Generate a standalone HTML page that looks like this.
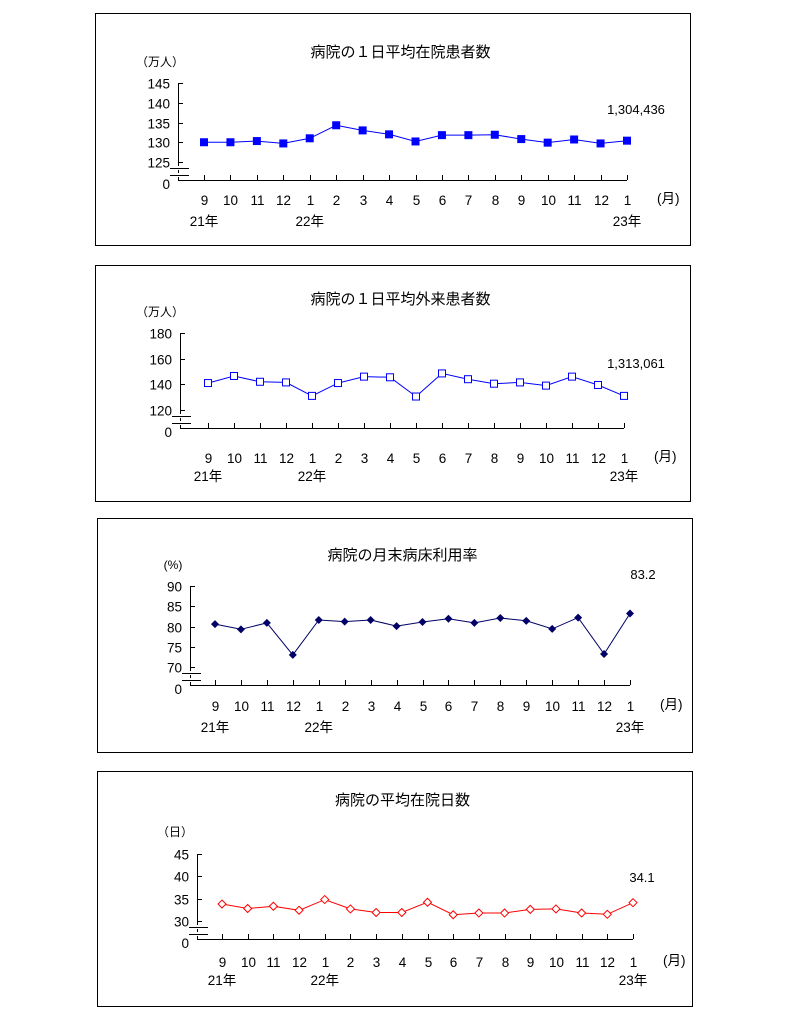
<!DOCTYPE html>
<html><head><meta charset="utf-8"><style>
body{margin:0;background:#fff;width:790px;height:1026px;overflow:hidden;}
svg{position:absolute;left:0;top:0;font-family:"Liberation Sans","Noto Sans CJK JP",sans-serif;}
</style></head><body>
<svg id="s" width="790" height="1026" viewBox="0 0 790 1026"></svg>
<script>
const months=["9","10","11","12","1","2","3","4","5","6","7","8","9","10","11","12","1"];
const inpatients=[130,130,130.3,129.7,131,134.3,133,132,130.2,131.8,131.8,131.9,130.8,129.9,130.7,129.7,130.4];
const outpatients=[141,146.5,142,141.5,131,141,146,145.5,130.5,148.5,144,140.5,141.5,139,146,139.5,131];
const bedRate=[80.6,79.3,80.9,73.0,81.6,81.2,81.6,80.1,81.1,81.9,80.9,82.1,81.4,79.4,82.2,73.2,83.2];
const stayDays=[33.8,32.8,33.3,32.4,34.8,32.7,31.9,31.9,34.2,31.4,31.8,31.8,32.6,32.7,31.8,31.5,34.1];
const ticks1=[125,130,135,140,145];
const ticks2=[120,140,160,180];
const ticks3=[70,75,80,85,90];
const ticks4=[30,35,40,45];
const lastLabels=["1,304,436","1,313,061","83.2","34.1"];
const S=document.getElementById('s');
const NS="http://www.w3.org/2000/svg";
function mk(t,a,txt){const e=document.createElementNS(NS,t);for(const k in a)e.setAttribute(k,a[k]);if(txt!==undefined)e.textContent=txt;S.appendChild(e);return e;}
const charts=[
 {box:[95,13,595,232],title:"病院の１日平均在院患者数",ty:57,unit:"（万人）",ux:160,uy:66,ax:178,bottom:180,top:83,vmin:125,vmax:145,ticks:ticks1,data:inpatients,x0:204,x1:627,my:205,yy:226,mk:"fsq",col:"#0000ff",lab:lastLabels[0],lx:636,ly:114},
 {box:[95,265,595,236],title:"病院の１日平均外来患者数",ty:304,unit:"（万人）",ux:160,uy:316,ax:180,bottom:428,top:333,vmin:120,vmax:180,ticks:ticks2,data:outpatients,x0:208,x1:624,my:463,yy:481,mk:"hsq",col:"#0000ff",lab:lastLabels[1],lx:636,ly:368},
 {box:[97,518,595,234],title:"病院の月末病床利用率",ty:560,unit:"(%)",ux:173,uy:569,ax:190,bottom:685,top:586,vmin:70,vmax:90,ticks:ticks3,data:bedRate,x0:215,x1:630,my:711,yy:732,mk:"dia",col:"#000066",lab:lastLabels[2],lx:643,ly:579},
 {box:[97,771,595,235],title:"病院の平均在院日数",ty:805,unit:"（日）",ux:175,uy:836,ax:197,bottom:939,top:854,vmin:30,vmax:45,ticks:ticks4,data:stayDays,x0:222,x1:633,my:967,yy:985,mk:"hdia",col:"#ff0000",lab:lastLabels[3],lx:642,ly:882}
];
charts.forEach((c,ci)=>{
 const [bx,by,bw,bh]=c.box;
 let e=mk('rect',{x:bx+0.5,y:by+0.5,width:bw,height:bh,fill:'none',stroke:'#000'});
 
 e=mk('text',{x:bx+bw/2+8,y:c.ty,'font-size':15,'text-anchor':'middle'},c.title);
 
 e=mk('text',{x:c.ux,y:c.uy,'font-size':12,'text-anchor':'middle'},c.unit);
 
 const minY=c.bottom-18;
 const y=v=>c.top+(c.vmax-v)/(c.vmax-c.vmin)*(minY-c.top);
 const n=c.data.length;
 const x=i=>c.x0+i*(c.x1-c.x0)/(n-1);
 e=mk('line',{x1:c.ax+0.5,y1:c.top,x2:c.ax+0.5,y2:c.bottom,stroke:'#000'});
 
 e=mk('line',{x1:c.ax,y1:c.bottom+0.5,x2:c.x1,y2:c.bottom+0.5,stroke:'#000'});
 
 c.ticks.forEach(t=>{
  const ty=Math.round(y(t))+0.5;
  let l=mk('line',{x1:c.ax,y1:ty,x2:c.ax+5,y2:ty,stroke:'#000'});
  
  l=mk('text',{x:c.ax-8,y:ty+5,'font-size':13.5,'text-anchor':'end'},String(t));
  
 });
 e=mk('text',{x:c.ax-8,y:c.bottom+9,'font-size':13.5,'text-anchor':'end'},"0");
 
 [c.bottom-12,c.bottom-5].forEach(by2=>{
  const r=mk('rect',{x:c.ax-8,y:by2-2,width:20,height:4,fill:'#fff'});
  
 });
 [c.bottom-12,c.bottom-5].forEach(by2=>{
  const r=mk('line',{x1:c.ax-8,y1:by2+0.5,x2:c.ax+11,y2:by2+0.5,stroke:'#000'});
  
 });
 months.forEach((m,i)=>{
  const xx=Math.round(x(i))+0.5;
  let l=mk('line',{x1:xx,y1:c.bottom-5,x2:xx,y2:c.bottom,stroke:'#000'});
  
  l=mk('text',{x:xx,y:c.my,'font-size':13.5,'text-anchor':'middle'},m);
  
 });
 [[0,"21年"],[4,"22年"],[16,"23年"]].forEach(([i,t])=>{
  const l=mk('text',{x:x(i),y:c.yy,'font-size':13.5,'text-anchor':'middle'},t);
  
 });
 e=mk('text',{x:x(16)+30,y:c.my-2,'font-size':13.5},"(月)");
 
 const pts=c.data.map((v,i)=>x(i).toFixed(1)+','+y(v).toFixed(1)).join(' ');
 e=mk('polyline',{points:pts,fill:'none',stroke:c.col,'stroke-width':1});
 
 c.data.forEach((v,i)=>{
  const px=x(i),py=y(v);let m;
  if(c.mk==='fsq')m=mk('rect',{x:px-4,y:py-4,width:8,height:8,fill:c.col});
  else if(c.mk==='hsq')m=mk('rect',{x:px-3.5,y:py-3.5,width:7,height:7,fill:'#fff',stroke:c.col});
  else if(c.mk==='dia')m=mk('polygon',{points:`${px},${py-4} ${px+4},${py} ${px},${py+4} ${px-4},${py}`,fill:c.col});
  else m=mk('polygon',{points:`${px},${py-4} ${px+4},${py} ${px},${py+4} ${px-4},${py}`,fill:'#fff',stroke:c.col});
  
  
 });
 e=mk('text',{x:c.lx,y:c.ly,'font-size':13,'text-anchor':'middle'},c.lab);
 
});
</script>
</body></html>
